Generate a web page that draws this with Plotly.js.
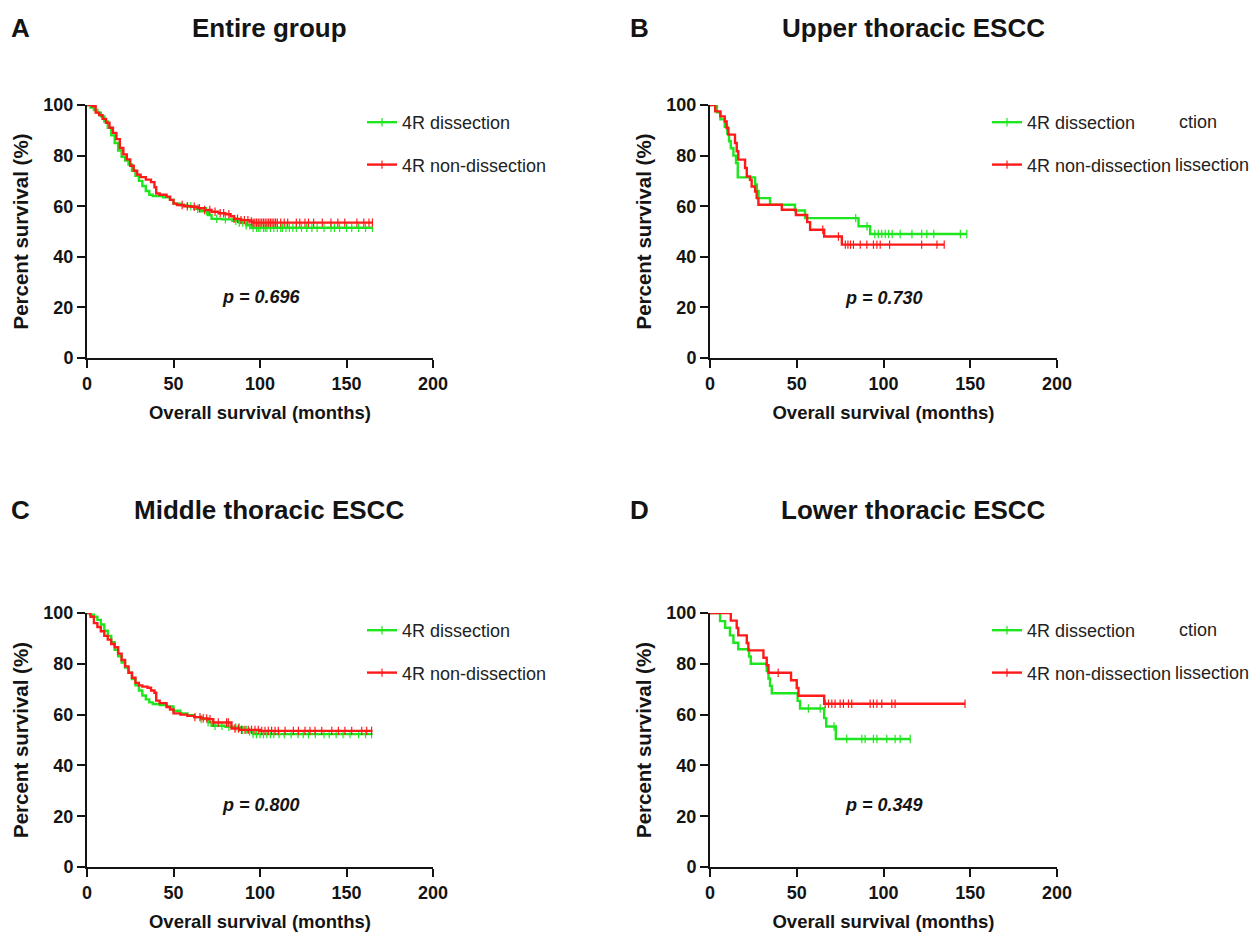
<!DOCTYPE html>
<html><head><meta charset="utf-8">
<script src="https://cdn.plot.ly/plotly-3.0.1.min.js"></script>
<style>html,body{margin:0;padding:0;background:#fff;}#chart{width:1255px;height:933px;}</style>
</head><body><div id="chart"></div>
<script>
// ---------- DATA ----------
const panelLetters = ["A", "B", "C", "D"];
const panelTitles = ["Entire group", "Upper thoracic ESCC", "Middle thoracic ESCC", "Lower thoracic ESCC"];
const pValues = ["p = 0.696", "p = 0.730", "p = 0.800", "p = 0.349"];
const seriesNames = ["4R dissection", "4R non-dissection"];
const xTickVals = [0, 50, 100, 150, 200];
const yTickVals = [0, 20, 40, 60, 80, 100];
const xTitle = "Overall survival (months)";
const yTitle = "Percent survival (%)";

// A: Entire group
const A_dis_time = [0,2,4,6,8,10,12,14,16,18,20,22,24,26,28,30,32,34,36,38,44,48,50,54,58,62,66,70,72,78,84,88,92,95,165];
const A_dis_surv = [100,99,98,97,95.5,93.5,91,88,85,82,79.5,78,76.5,74,72,70,68,66,64.5,64,63.5,62.5,61,60.5,60,59,58,56.5,55,54.8,54.2,53.5,52.5,51.5,51.5];
const A_dis_cens = [60,64,69,75,80,86,88,90,92,94,96,98,99,100,102,103,104,106,108,110,112,113,115,117,119,121,124,127,130,133,137,141,143,146,150,153,157,161,165];
const A_non_time = [0,3,5,7,9,11,13,15,17,19,21,23,25,27,29,31,34,37,39,40,42,46,48,50,52,56,60,64,68,72,76,80,83,85,89,94,96,165];
const A_non_surv = [100,99.5,97,96,94.5,93,91,89,86.5,83,80.5,78.5,76,74,72.5,71.5,70.5,69.5,67.5,65,64.5,63.8,62.5,61,60.5,60,59.8,59.2,58.5,57.8,57.2,56.8,56,55,54.5,54,53.5,53.5];
const A_non_cens = [55,58,62,65,68,71,74,77,79,82,85,87,89,91,93,95,96,97,98,99,100,101,102,103,104,105,106,107,108,109,110,112,114,116,121,123,126,128,131,136,141,145,149,156,160,163,165];

// B: Upper thoracic ESCC
const B_dis_time = [0,4,6,8.5,10,11,12,13.5,15,16,26,27,28,34.6,49,54.8,85.6,92.3,148];
const B_dis_surv = [100,97.1,94.3,91.4,88.6,85.7,82.9,80,77.1,71.4,68.6,66,63.2,60.6,58.3,55.3,52.1,49,49];
const B_dis_cens = [26,84,90.5,95,97,99,101,103,105,109.6,116.4,122,125,129,144.3,148];
const B_non_time = [0,3,6,8.5,9.6,10.6,14.4,15.4,16.3,20.2,21.2,23.1,24,26,26.9,27.9,41.4,49.5,56,57.7,65.8,76,135];
const B_non_surv = [100,97.5,95.5,93.5,90.9,88.3,85,81.7,78.4,75.1,71.8,70.4,67.8,65.8,63.2,60.6,58.6,56.5,53.7,50.7,48,44.8,44.8];
const B_non_cens = [65,74,78,79.5,81,82.7,86.6,90.4,94.2,96.2,98.1,103.5,122,130.8,135];

// C: Middle thoracic ESCC
const C_dis_time = [0,2,4,6,8,10,12,14,16,18,20,22,24,26,28,30,32,34,36,38,42,46,50,54,58,62,66,70,72,80,85,90,93,96,165];
const C_dis_surv = [100,99.3,98.5,97.3,95.5,93,91,88.5,85.5,83,80.5,78.5,76.5,74,71.5,69.5,67.5,66,64.8,64.2,63.8,63.2,61.5,60.5,59.8,59,58.2,57,55.6,55.2,54.9,54,53.3,52.3,52.3];
const C_dis_cens = [66,70,74,78,82,86,88,90,92,94,96,98,100,102,104,106,108,111,114,118,122,125,128,132,137,140,144,148,152,157,161,164.5];
const C_non_time = [0,2,4,6,8,10,12,14,16,18,20,22,24,26,28,30,32,35,37,39,40,42,46,48,50,54,58,62,66,70,73,83.5,88,100,165];
const C_non_surv = [100,98.5,96,94.5,92.8,91,89.5,87.8,86.5,84,81.5,79,76.5,74.5,72.5,71.5,71,70.6,69.5,68.6,65.5,64.5,63,62,60.5,60,59.5,59,58.5,58.2,56.9,54.5,54,53.6,53.6];
const C_non_cens = [62.4,65.3,67.2,69.2,71.1,73,75.9,80.7,81.7,85.5,87.5,89.3,91.3,93.2,95.1,97.1,99,101,102.9,104.8,106.7,108.7,110.6,114.5,119.3,122.2,126,128.9,131.8,135.7,141.5,145.3,149.1,153,158.8,161.7,164.5];

// D: Lower thoracic ESCC
const D_dis_time = [0,5.8,8.7,11.5,13.5,16.3,22.5,23.5,32.7,33.7,34.6,35.6,50.5,51.9,65.8,67,72.5,115.4];
const D_dis_surv = [100,96.8,94.2,91.2,88.3,85.7,82.9,80,77.1,74.2,71.3,68.4,65.4,62.4,58.6,55.3,50.4,50.4];
const D_dis_cens = [56.7,63.5,71.5,78.8,87.5,89.4,94.2,96.2,101.9,106.7,109.6,115.4];
const D_non_time = [0,12,15.4,16.3,21.2,22.1,30.8,32.7,33.7,46.7,50,51,65.8,147];
const D_non_surv = [100,97,94.1,91.2,88.2,85.3,82.4,79.4,76.5,73.5,70.5,67.4,64.3,64.3];
const D_non_cens = [39.3,66.4,68.3,70.2,72.1,75,76.9,79.8,81.7,92.3,94.2,96.2,99,104.8,106.7,147];

const seriesColors = ["#1EE61E", "#FF1A1A"];

// ---------- LAYOUT HELPERS ----------
const W = 1255, H = 933;
const px = v => v / W;
const py = v => 1 - v / H;
const FONT = "Liberation Sans, Arial, Helvetica, sans-serif";
const INK = "#141414";

const panels = [
  {dis:[A_dis_time,A_dis_surv,A_dis_cens], non:[A_non_time,A_non_surv,A_non_cens], box:[87,433,105,358]},
  {dis:[B_dis_time,B_dis_surv,B_dis_cens], non:[B_non_time,B_non_surv,B_non_cens], box:[710,1057,105,358]},
  {dis:[C_dis_time,C_dis_surv,C_dis_cens], non:[C_non_time,C_non_surv,C_non_cens], box:[87,433,613,867]},
  {dis:[D_dis_time,D_dis_surv,D_dis_cens], non:[D_non_time,D_non_surv,D_non_cens], box:[710,1057,613,867]}
];
const headerY = [28, 28, 510, 510];
const letterX = [9, 628, 9, 628];
const titleCX = [269, 913, 269, 913];
const pPos = [[261,297],[884,298],[261,805],[884,805]];
const legendPos = [[362,104],[987,104],[362,612],[987,612]];

function stepLookup(times, survs, t) {
  let v = survs[0];
  for (let i = 0; i < times.length; i++) { if (times[i] <= t) v = survs[i]; }
  return v;
}

const data = [];
const layout = {
  width: W, height: H,
  margin: {l:0, r:0, t:0, b:0},
  paper_bgcolor: "#fff", plot_bgcolor: "#fff",
  hovermode: false,
  annotations: [],
  font: {family: FONT, color: INK}
};

panels.forEach((p, k) => {
  const n = k === 0 ? "" : String(k + 1);
  const xa = "x" + n, ya = "y" + n;
  const legendId = "legend" + n;
  const [x0, x1, yt, yb] = p.box;

  layout["xaxis" + n] = {
    domain: [px(x0), px(x1)], anchor: ya, range: [0, 200],
    tickmode: "array", tickvals: xTickVals, ticktext: xTickVals.map(String),
    ticks: "outside", ticklen: 8, tickwidth: 2, tickcolor: INK,
    showline: true, linewidth: 2, linecolor: INK,
    showgrid: false, zeroline: false, fixedrange: true,
    tickfont: {family: FONT, size: 18, color: INK, weight: "bold"},
    title: {text: xTitle, font: {family: FONT, size: 18.5, color: INK, weight: "bold"}, standoff: 13}
  };
  layout["yaxis" + n] = {
    domain: [py(yb), py(yt)], anchor: xa, range: [0, 100],
    tickmode: "array", tickvals: yTickVals, ticktext: yTickVals.map(String),
    ticks: "outside", ticklen: 8, tickwidth: 2, tickcolor: INK,
    showline: true, linewidth: 2, linecolor: INK,
    showgrid: false, zeroline: false, fixedrange: true,
    tickfont: {family: FONT, size: 18, color: INK, weight: "bold"},
    title: {text: yTitle, font: {family: FONT, size: 20.5, color: INK, weight: "bold"}, standoff: 9}
  };
  layout[legendId] = {
    x: px(legendPos[k][0]), y: py(legendPos[k][1]), xanchor: "left", yanchor: "top",
    bgcolor: "rgba(0,0,0,0)", borderwidth: 0,
    font: {family: FONT, size: 18, color: "#222"},
    traceorder: "grouped", tracegroupgap: 16
  };

  [p.dis, p.non].forEach((s, j) => {
    const [times, survs, cens] = s;
    const col = seriesColors[j];
    const grp = "g" + k + "_" + j;
    data.push({
      type: "scatter", mode: "lines", x: times, y: survs,
      line: {shape: "hv", color: col, width: 2.4},
      xaxis: xa, yaxis: ya, showlegend: false, legendgroup: grp,
      legend: legendId, cliponaxis: false
    });
    const cx = [], cy = [];
    cens.forEach(c => { cx.push(c, null); cy.push(stepLookup(times, survs, c), null); });
    data.push({
      type: "scatter", mode: "lines+markers", x: cx, y: cy, connectgaps: false,
      name: seriesNames[j],
      line: {color: col, width: 2.4},
      marker: {symbol: "line-ns", size: 6, color: col, line: {color: col, width: 1.2}},
      xaxis: xa, yaxis: ya, legendgroup: grp, legend: legendId, cliponaxis: false
    });
  });

  layout.annotations.push(
    {text: panelLetters[k], xref: "paper", yref: "paper", x: px(letterX[k]), y: py(headerY[k]),
     xanchor: "left", yanchor: "middle", showarrow: false,
     font: {family: FONT, size: 26, color: INK, weight: "bold"}},
    {text: panelTitles[k], xref: "paper", yref: "paper", x: px(titleCX[k]), y: py(headerY[k]),
     xanchor: "center", yanchor: "middle", showarrow: false,
     font: {family: FONT, size: 26, color: INK, weight: "bold"}},
    {text: pValues[k], xref: "paper", yref: "paper", x: px(pPos[k][0]), y: py(pPos[k][1]),
     xanchor: "center", yanchor: "middle", showarrow: false,
     font: {family: FONT, size: 18, color: INK, weight: "bold", style: "italic"}}
  );
  if (k === 1 || k === 3) {
    // overlapping ghost text present in the reference legends
    const ly = k === 1 ? 122 : 630;
    layout.annotations.push(
      {text: "ction", xref: "paper", yref: "paper", x: px(1177), y: py(ly),
       xanchor: "left", yanchor: "middle", showarrow: false,
       font: {family: FONT, size: 18, color: "#222"}},
      {text: "lissection", xref: "paper", yref: "paper", x: px(1173), y: py(ly + 43),
       xanchor: "left", yanchor: "middle", showarrow: false,
       font: {family: FONT, size: 18, color: "#222"}}
    );
  }
});

Plotly.newPlot("chart", data, layout, {displayModeBar: false, staticPlot: true});
</script>
</body></html>
